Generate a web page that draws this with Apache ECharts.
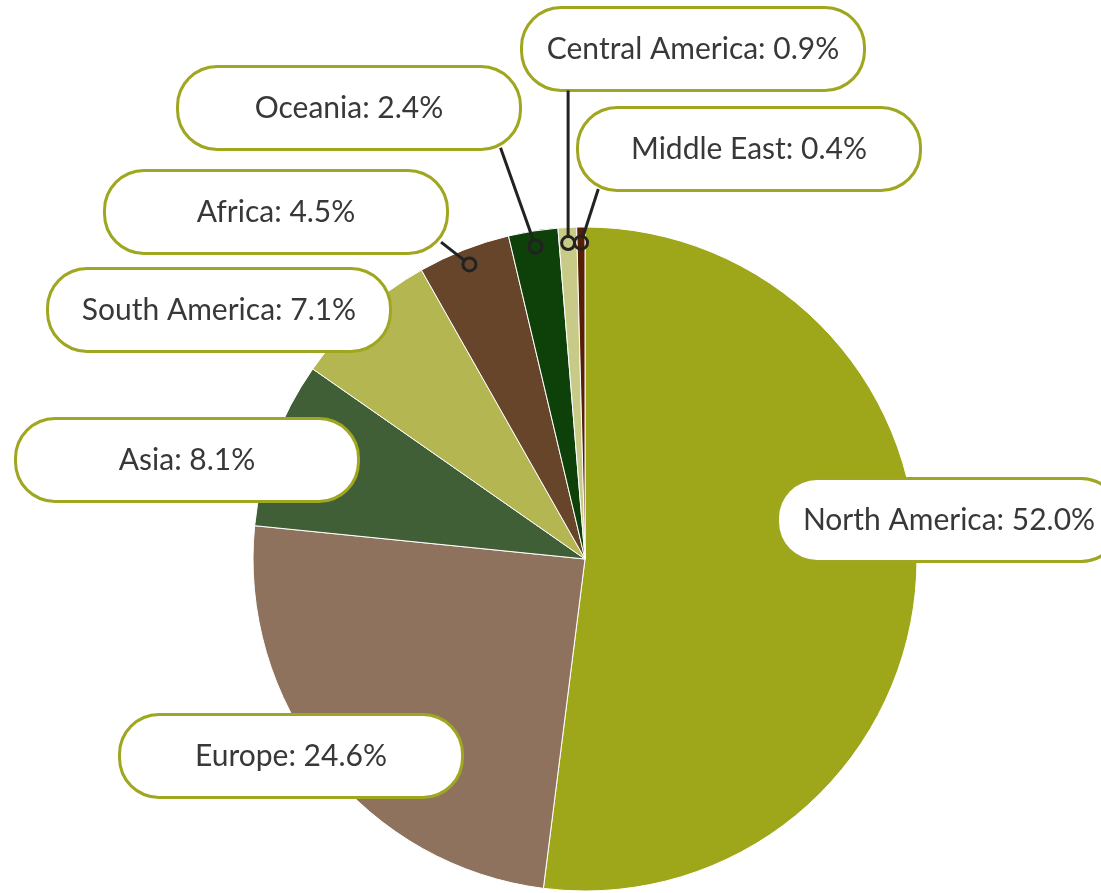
<!DOCTYPE html>
<html>
<head>
<meta charset="utf-8">
<style>
  html, body { margin: 0; padding: 0; background: #ffffff; }
  #chart { width: 1101px; height: 893px; }
</style>
<script src="https://cdn.jsdelivr.net/npm/echarts@6/dist/echarts.min.js"></script>
</head>
<body>
<div id="chart"></div>
<script>
// ---- data ----
const regions = ['North America', 'Europe', 'Asia', 'South America', 'Africa', 'Oceania', 'Central America', 'Middle East'];
const shares = [52.0, 24.6, 8.1, 7.1, 4.5, 2.4, 0.9, 0.4];

// ---- styles / layout ----
const sliceColors = ['#9ea61a', '#8f725e', '#405f36', '#b3b651', '#67452b', '#0e400a', '#c8cb88', '#561e05'];
const leaderRegions = ['Africa', 'Oceania', 'Central America', 'Middle East'];
const pieCenter = [585, 559];
const pieRadius = 332;
const boxW = 340, boxH = 80, boxR = 38;
// label box centres (pixels)
const labelBoxCenters = {
  'North America': [949, 520],
  'Europe': [291, 756],
  'Asia': [187, 460],
  'South America': [219, 310],
  'Africa': [276, 212],
  'Oceania': [349, 108],
  'Central America': [693, 49],
  'Middle East': [749, 149]
};
const dotRadiusFrac = 0.953;

const total = shares.reduce((a, b) => a + b, 0);
let cum = 0;
const midPercents = shares.map(v => { const m = cum + v / 2; cum += v; return m / total * 100; });
const leaderData = regions
  .map((r, i) => leaderRegions.indexOf(r) >= 0 ? [dotRadiusFrac, midPercents[i], i] : null)
  .filter(d => d);

function nearestOnRoundRect(px, py, cx, cy, w, h, r) {
  const hx = w / 2 - r, hy = h / 2 - r;
  const qx = Math.max(cx - hx, Math.min(cx + hx, px));
  const qy = Math.max(cy - hy, Math.min(cy + hy, py));
  const dx = px - qx, dy = py - qy;
  const d = Math.sqrt(dx * dx + dy * dy) || 1;
  return [qx + dx / d * r, qy + dy / d * r];
}

const chart = echarts.init(document.getElementById('chart'), null, { renderer: 'canvas' });
const fontFamily = 'Lato, "Open Sans", sans-serif';

chart.setOption({
  backgroundColor: '#ffffff',
  animation: false,
  polar: { center: pieCenter, radius: pieRadius },
  angleAxis: { type: 'value', min: 0, max: 100, startAngle: 90, clockwise: true, show: false },
  radiusAxis: { type: 'value', min: 0, max: 1, show: false },
  series: [
    {
      type: 'pie',
      center: pieCenter,
      radius: pieRadius,
      startAngle: 90,
      clockwise: true,
      avoidLabelOverlap: false,
      z: 2,
      itemStyle: { borderColor: '#ffffff', borderWidth: 1 },
      data: regions.map((r, i) => ({ name: r, value: shares[i], itemStyle: { color: sliceColors[i] } })),
      label: {
        show: true,
        position: 'outside',
        formatter: p => p.name + ': ' + p.value.toFixed(1) + '%',
        fontFamily: fontFamily,
        fontSize: 30,
        color: '#383838',
        backgroundColor: '#ffffff',
        borderColor: '#9fa720',
        borderWidth: 3,
        borderRadius: boxR,
        width: boxW,
        height: boxH,
        lineHeight: boxH,
        overflow: 'none',
        align: 'center',
        padding: 0
      },
      labelLine: { show: false },
      labelLayout: function (params) {
        const name = regions[params.dataIndex];
        const c = labelBoxCenters[name];
        return { x: c[0], y: c[1], align: 'center', verticalAlign: 'middle' };
      },
      emphasis: { disabled: true }
    },
    {
      type: 'custom',
      coordinateSystem: 'polar',
      z: 5,
      silent: true,
      data: leaderData,
      renderItem: function (params, api) {
        const p = api.coord([api.value(0), api.value(1)]);
        const name = regions[api.value(2)];
        const c = labelBoxCenters[name];
        const t = nearestOnRoundRect(p[0], p[1], c[0], c[1], boxW + 3, boxH + 3, boxR - 8);
        const dx = t[0] - p[0], dy = t[1] - p[1];
        const d = Math.sqrt(dx * dx + dy * dy) || 1;
        const rr = 6.5;
        return {
          type: 'group',
          children: [
            {
              type: 'line',
              shape: { x1: p[0] + dx / d * rr, y1: p[1] + dy / d * rr, x2: t[0], y2: t[1] },
              style: { stroke: '#222222', lineWidth: 3 }
            },
            {
              type: 'circle',
              shape: { cx: p[0], cy: p[1], r: rr },
              style: { fill: 'none', stroke: '#222222', lineWidth: 3 }
            }
          ]
        };
      }
    }
  ]
});
</script>
</body>
</html>
